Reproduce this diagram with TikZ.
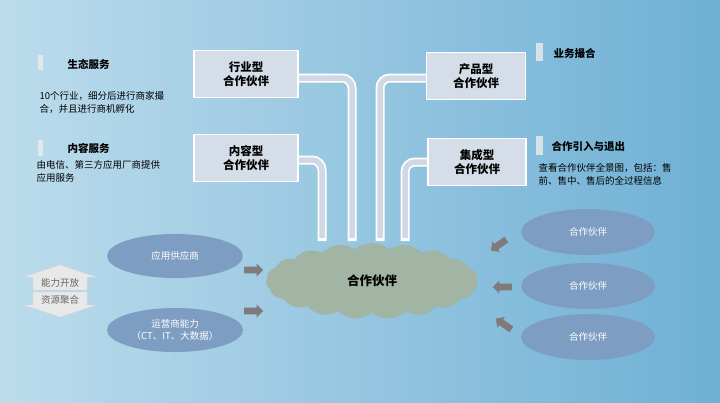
\documentclass[tikz,border=0pt]{standalone}
\usepackage{fontspec}
\setmainfont{Noto Sans CJK SC}
\usetikzlibrary{shapes.symbols,shapes.arrows,shapes.geometric}

\definecolor{bgleft}{HTML}{BCDCEC}
\definecolor{bgright}{HTML}{6FB0D5}
\definecolor{boxfill}{HTML}{D5DEE8}
\definecolor{ellfill}{HTML}{7E9DC3}
\definecolor{cloudfill}{HTML}{A2B4A4}
\definecolor{arrowgray}{HTML}{807A7A}
\definecolor{pipefill}{HTML}{D0D8E4}

\tikzset{
  typebox/.style={draw=white, line width=1.2pt, fill=boxfill, minimum width=104pt,
    minimum height=47pt, align=center, font=\bfseries\fontsize{11.5}{14}\selectfont},
  partner/.style={ellipse, fill=ellfill, minimum width=134pt, minimum height=46pt,
    text=white, align=center, font=\fontsize{9.5}{12}\selectfont},
  blockarrow/.style={single arrow, fill=arrowgray, minimum height=19pt,
    minimum width=13pt, single arrow head extend=2pt, inner sep=2pt},
  pipe/.style={line width=9pt, white, rounded corners=10pt},
  pipein/.style={line width=5.5pt, pipefill, rounded corners=10pt},
  title/.style={anchor=west, font=\bfseries\fontsize{10.5}{12}\selectfont},
  body/.style={anchor=north west, align=left, font=\fontsize{9.5}{13}\selectfont},
  marker/.style={fill=white!85!gray, opacity=0.8},
  updown/.style={fill=white!82!gray, draw=white!70!gray, line width=0.3pt},
  updowntext/.style={text=black!60, font=\fontsize{9.5}{11}\selectfont}
}

\begin{document}
\begin{tikzpicture}[x=1pt,y=-1pt]
\shade[left color=bgleft, right color=bgright] (0,0) rectangle (720,402);
\useasboundingbox (0,0) rectangle (720,402);

% pipes into the cloud
\foreach \a/\b/\c in {299/78/352, 299/160/322, 426/78/380, 428/162/405}{
  \draw[pipe] (\a,\b) -- (\c,\b) -- (\c,241);
  \draw[pipein] (\a,\b) -- (\c,\b) -- (\c,238);
}

% type boxes
\node[typebox] (industry) at (246,74) {行业型\\合作伙伴};
\node[typebox] (content) at (246,158) {内容型\\合作伙伴};
\node[typebox, minimum width=99pt] (product) at (476,76) {产品型\\合作伙伴};
\node[typebox, minimum width=98pt] (integrate) at (477,162) {集成型\\合作伙伴};

% cloud
\node[cloud, cloud puffs=19, cloud puff arc=80, aspect=2.8, fill=cloudfill,
  minimum width=212pt, minimum height=76pt, font=\bfseries\fontsize{12.5}{14}\selectfont]
  (hub) at (372,281) {合作伙伴};

% left ellipses
\node[partner, minimum width=136pt, minimum height=44pt] (app) at (175,256) {应用供应商};
\node[partner, minimum width=136pt, minimum height=44pt] (operator) at (175,330)
  {运营商能力\\（CT、IT、大数据）};

% right ellipses
\node[partner] (p1) at (588,232) {合作伙伴};
\node[partner] (p2) at (588,286) {合作伙伴};
\node[partner] (p3) at (588,337) {合作伙伴};

% block arrows
\node[blockarrow] (a1) at (252,270) {};
\node[blockarrow] (a2) at (252,311) {};
\node[blockarrow, rotate=-145] (a3) at (500,244) {};
\node[blockarrow, rotate=180] (a4) at (504,287) {};
\node[blockarrow, rotate=145] (a5) at (505,325) {};

% up/down arrows
\filldraw[updown] (33,290) -- (33,277) -- (24,277) -- (60,265) -- (96,277) -- (87,277) -- (87,290) -- cycle;
\filldraw[updown] (33,292) -- (33,305) -- (24,305) -- (60,317) -- (96,305) -- (87,305) -- (87,292) -- cycle;
\node[updowntext] (open) at (60,283) {能力开放};
\node[updowntext] (pool) at (60,300) {资源聚合};

% side texts
\fill[marker] (38,55) rectangle (43,70);
\node[title] (eco) at (64,64) {生态服务};
\node[body] (ecotext) at (36,88) {10个行业，细分后进行商家撮\\合，并且进行商机孵化};
\fill[marker] (38,140) rectangle (43,156);
\node[title] (cont) at (64,148) {内容服务};
\node[body] (conttext) at (33,157) {由电信、第三方应用厂商提供\\应用服务};
\fill[marker] (536,43) rectangle (543,61);
\node[title] (match) at (550,53) {业务撮合};
\fill[marker] (536,136) rectangle (543,155);
\node[title] (inout) at (548,146) {合作引入与退出};
\node[body] (inouttext) at (535,160) {查看合作伙伴全景图，包括：售\\前、售中、售后的全过程信息};
\end{tikzpicture}
\end{document}
